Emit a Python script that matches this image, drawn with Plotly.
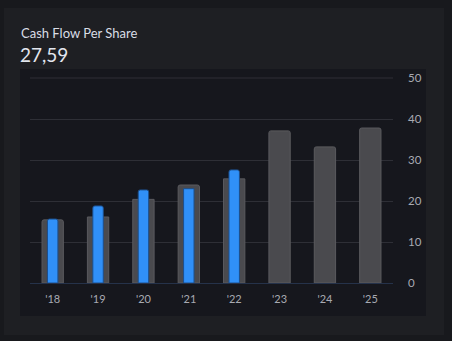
import plotly.graph_objects as go

# Fiscal years shown on the category axis
years = ["'18", "'19", "'20", "'21", "'22", "'23", "'24", "'25"]
# Consensus estimates (grey bars)
estimates = [15.4, 16.1, 20.4, 23.9, 25.4, 37.1, 33.2, 37.8]
# Reported cash flow per share (blue bars); no figures yet for later years
actuals = [15.6, 18.8, 22.7, 23.0, 27.59, None, None, None]
y_ticks = [0, 10, 20, 30, 40, 50]

title_text = "Cash Flow Per Share"
latest_text = "27,59"

W, H = 452, 341
# plot area in pixels
L, R, T, B = 30, 393, 78, 283
grid_color = "#2e2f36"


def px_x(p):
    return (p - L) / (R - L)


def px_y(p):
    return (B - p) / (B - T)


fig = go.Figure()
fig.add_trace(go.Bar(
    x=years, y=estimates, width=0.47,
    marker=dict(color="#4a4a4e", line=dict(color="#5a5a5e", width=1), cornerradius=2),
    hoverinfo="skip",
))
fig.add_trace(go.Bar(
    x=years, y=actuals, width=0.23,
    marker=dict(color="#3090f8", line=dict(color="#1d4f8c", width=1), cornerradius=2),
    hoverinfo="skip",
))

shapes = [
    # card
    dict(type="rect", xref="paper", yref="paper", layer="below",
         x0=px_x(4), x1=px_x(444), y0=px_y(335), y1=px_y(8),
         fillcolor="#1e1f23", line=dict(width=0)),
    # chart panel
    dict(type="rect", xref="paper", yref="paper", layer="below",
         x0=px_x(20), x1=px_x(426), y0=px_y(316), y1=px_y(69),
         fillcolor="#16171d", line=dict(width=0)),
    # top gridline at the upper edge of the value range
    dict(type="line", xref="paper", yref="paper", layer="below",
         x0=0, x1=1, y0=1, y1=1, line=dict(color=grid_color, width=1)),
]

annotations = [
    dict(text=title_text, xref="paper", yref="paper", x=px_x(19), y=px_y(33),
         xanchor="left", yanchor="middle", showarrow=False,
         font=dict(family="Lato", size=13, color="#d9dde6")),
    dict(text=latest_text, xref="paper", yref="paper", x=px_x(18), y=px_y(55),
         xanchor="left", yanchor="middle", showarrow=False,
         font=dict(family="Lato", size=19, color="#e2e6ee")),
]

fig.update_layout(
    width=W, height=H,
    margin=dict(l=L, r=W - R, t=T, b=H - B, pad=0),
    paper_bgcolor="#18191d",
    plot_bgcolor="rgba(0,0,0,0)",
    barmode="overlay",
    showlegend=False,
    shapes=shapes,
    annotations=annotations,
    font=dict(family="Lato", color="#a8aab2", size=11),
    xaxis=dict(
        range=[-0.5, 7.5], showgrid=False, showline=False, zeroline=False,
        tickfont=dict(size=11, color="#a8aab2"), ticks="", ticklabelstandoff=8,
        fixedrange=True,
    ),
    yaxis=dict(
        range=[0, 50], side="right", tickvals=y_ticks,
        showgrid=True, gridcolor=grid_color, gridwidth=1,
        zeroline=True, zerolinecolor="#25324a", zerolinewidth=1,
        showline=False, ticks="", ticklabelstandoff=14,
        tickfont=dict(size=11.5, color="#a8aab2"), fixedrange=True,
    ),
)

fig.write_html("out.html")
